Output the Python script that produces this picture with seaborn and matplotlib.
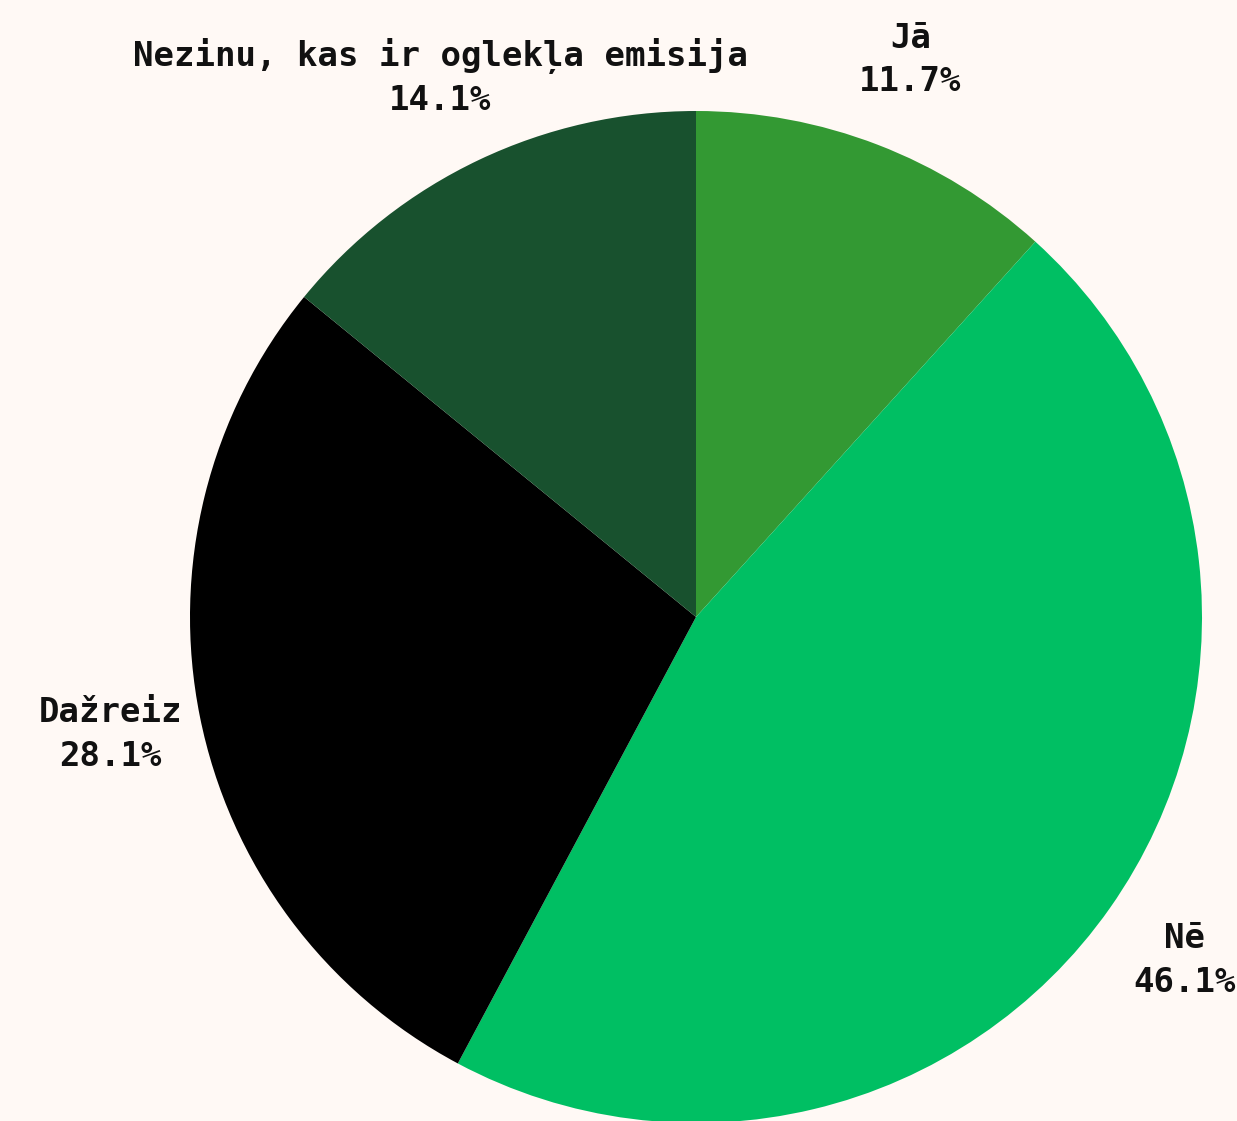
import matplotlib
matplotlib.use("Agg")
import matplotlib.pyplot as plt
import seaborn as sns

categories = ["Jā", "Nē", "Dažreiz", "Nezinu, kas ir oglekļa emisija"]
values = [11.7, 46.1, 28.1, 14.1]
colors = ["#339933", "#00BF63", "#000000", "#18512E"]

sns.set_theme(style="white")
plt.rcParams['font.family'] = ['DejaVu Sans Mono', 'DejaVu Sans']

W, H = 1237, 1121
fig = plt.figure(figsize=(W / 100, H / 100), dpi=100)
bg = "#FFF9F5"
fig.patch.set_facecolor(bg)

cx, cy, r = 696, 617, 506
ax = fig.add_axes([(cx - r) / W, (H - cy - r) / H, 2 * r / W, 2 * r / H])
ax.set_facecolor(bg)

labels = [f"{c}\n{v:.1f}%" for c, v in zip(categories, values)]
wedges, texts = ax.pie(values, colors=colors, startangle=90, counterclock=False,
                       labels=labels, labeldistance=1.18,
                       wedgeprops=dict(linewidth=0))
for t in texts:
    t.set_ha("center")
    t.set_va("center")
    t.set_multialignment("center")
    t.set_fontsize(24.5)
    t.set_fontweight("bold")
    t.set_linespacing(1.4)
    t.set_color("#111111")
    t.set_clip_on(False)
ax.set_xlim(-1, 1)
ax.set_ylim(-1, 1)
ax.set_aspect("auto")
ax.axis("off")

fig.savefig("out.png", dpi=100, facecolor=bg)
